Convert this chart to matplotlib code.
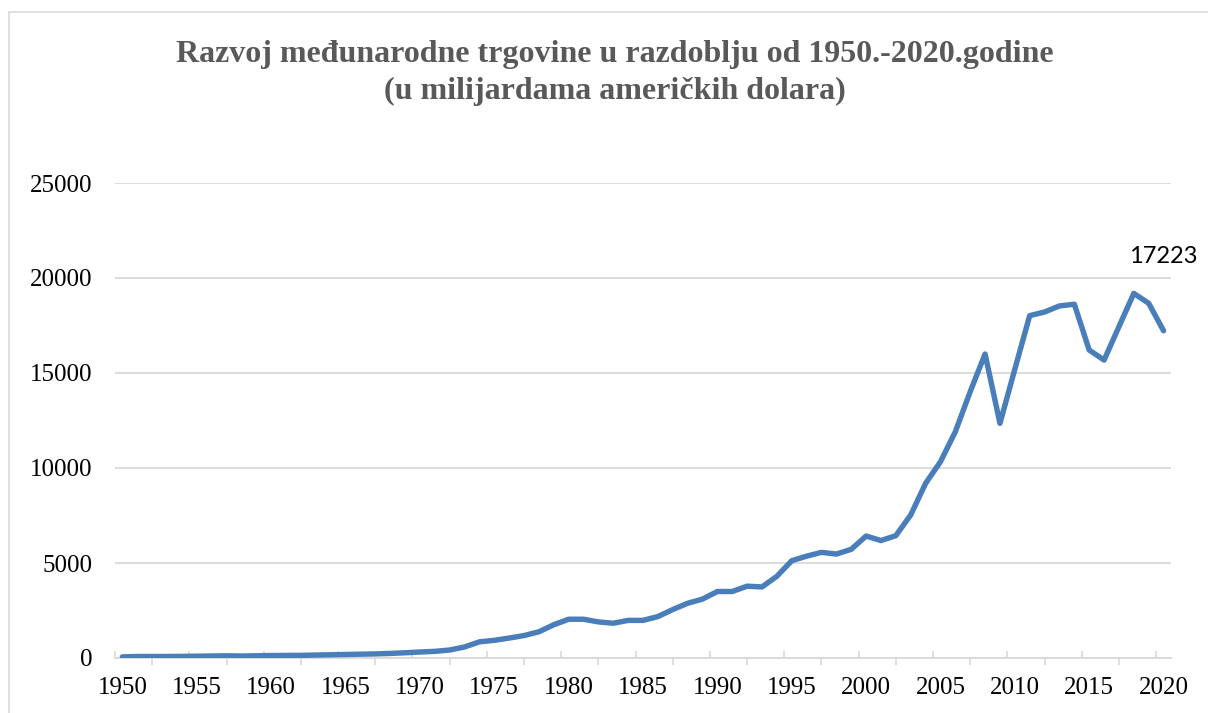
import numpy as np
import matplotlib.pyplot as plt
from matplotlib.patches import Rectangle

years = list(range(1950, 2021))
trade = [60, 80, 80, 80, 85, 95, 105, 115, 105, 115,
         130, 135, 140, 155, 170, 185, 200, 215, 240, 275,
         315, 350, 420, 580, 850, 930, 1050, 1180, 1380, 1750,
         2040, 2040, 1900, 1830, 1980, 1980, 2180, 2550, 2880, 3100,
         3500, 3500, 3780, 3740, 4300, 5120, 5360, 5560, 5470, 5720,
         6420, 6180, 6440, 7530, 9190, 10330, 11910, 14020, 16000, 12350,
         15200, 18020, 18210, 18530, 18620, 16210, 15680, 17440, 19190, 18670,
         17223]
xlabels = list(range(1950, 2021, 5))
ylabels = [0, 5000, 10000, 15000, 20000, 25000]

title = "Razvoj međunarodne trgovine u razdoblju od 1950.-2020.godine\n(u milijardama američkih dolara)"

fig = plt.figure(figsize=(12.08, 7.13), dpi=100)
ax = fig.add_axes([115/1208, 55/713, (1171-115)/1208, (658-183)/713])

# chart border
fig.patches.append(Rectangle((9/1208, -0.1), 1.2, 1 - 12/713 + 0.1, transform=fig.transFigure,
                             fill=False, edgecolor="#D9D9D9", lw=1.2))

ax.plot(years, trade, color="#4A7EBB", lw=3.9, solid_joinstyle="round", solid_capstyle="round", zorder=3)

ax.set_xlim(1949.5, 2020.5)
ax.set_ylim(0, 25000)
ax.set_yticks(ylabels)
ax.set_yticklabels([str(v) for v in ylabels], fontfamily="Liberation Serif", fontsize=18)
ax.set_xticks(xlabels)
ax.set_xticklabels([str(v) for v in xlabels], fontfamily="Liberation Serif", fontsize=18)
ax.tick_params(axis="y", length=0, pad=16)
ax.tick_params(axis="x", which="major", length=0, pad=14)
ax.set_xticks(np.arange(1952, 2020, 5), minor=True)
ax.tick_params(axis="x", which="minor", direction="out", length=5, width=1.2, color="#D9D9D9")
ax.grid(axis="y", color="#D9D9D9", lw=1.3)
ax.set_axisbelow(True)
for s in ["top", "right", "left"]:
    ax.spines[s].set_visible(False)
ax.spines["bottom"].set_color("#D9D9D9")
ax.spines["bottom"].set_linewidth(1.3)

sec = ax.secondary_xaxis("bottom")
sec.set_xticks(np.arange(1949.5, 2020, 5))
sec.tick_params(direction="in", length=5, width=1.2, color="#D9D9D9", labelbottom=False)
sec.spines["bottom"].set_visible(False)

ax.annotate(str(trade[-1]), xy=(years[-1], trade[-1]), xytext=(0, 46), textcoords="offset points",
            ha="center", va="bottom", fontfamily="Lato", fontsize=17, color="black")

fig.text(615/1208, 1 - 40/713, title, ha="center", va="top", fontfamily="Liberation Serif",
         fontweight="bold", fontsize=23, color="#595959", linespacing=1.35)

fig.savefig("out.png", dpi=100)
